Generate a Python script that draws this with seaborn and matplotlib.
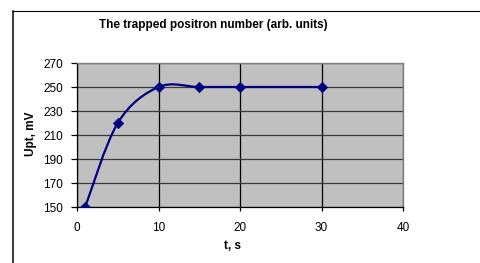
import numpy as np
import pandas as pd
import matplotlib
matplotlib.use("Agg")
import matplotlib.pyplot as plt
import seaborn as sns
from matplotlib.path import Path
from matplotlib.patches import PathPatch
from matplotlib.lines import Line2D

# --- data ---
t_s = [1, 5, 10, 15, 20, 30]
upt_mv = [150, 220, 250, 250, 250, 250]
x_ticks = [0, 10, 20, 30, 40]
y_ticks = [150, 170, 190, 210, 230, 250, 270]

title = "The trapped positron number (arb. units)"
xlabel = "t, s"
ylabel = "Upt, mV"

df = pd.DataFrame({"t": t_s, "upt": upt_mv})

sns.set_style("white")
plt.rcParams['font.family'] = ['Liberation Sans', 'DejaVu Sans']
plt.rcParams['text.color'] = 'black'
plt.rcParams['xtick.labelcolor'] = 'black'
plt.rcParams['ytick.labelcolor'] = 'black'

W, H = 480, 263
fig = plt.figure(figsize=(W / 100, H / 100), dpi=100)
ax = fig.add_axes([77 / W, 1 - 207 / H, 326 / W, 144 / H])
ax.set_facecolor('#c0c0c0')

# Excel style smoothed line (Catmull-Rom as cubic Bezier, in data coords)
pts = df[["t", "upt"]].to_numpy(dtype=float)
verts = [pts[0]]
codes = [Path.MOVETO]
n = len(pts)
for i in range(n - 1):
    p_prev = pts[i - 1] if i > 0 else pts[i]
    p_next = pts[i + 2] if i + 2 < n else pts[i + 1]
    c1 = pts[i] + (pts[i + 1] - p_prev) / 6
    c2 = pts[i + 1] - (p_next - pts[i]) / 6
    verts += [c1, c2, pts[i + 1]]
    codes += [Path.CURVE4] * 3
ax.add_patch(PathPatch(Path(verts, codes), facecolor='none',
                       edgecolor='#000080', lw=1.6, zorder=3))

sns.scatterplot(data=df, x="t", y="upt", marker='D', s=28, color='#000080',
                edgecolor='#000080', linewidth=0.5, ax=ax, zorder=4)

ax.set_xlim(0, 40)
ax.set_ylim(150, 270)
ax.set_xticks(x_ticks)
ax.set_yticks(y_ticks)
ax.grid(axis='y', color='#3a3a3a', lw=0.9)
ax.grid(axis='x', color='black', lw=0.9)
ax.set_axisbelow(True)

for s in ['top', 'right']:
    ax.spines[s].set_color('#808080')
    ax.spines[s].set_linewidth(1.0)
for s in ['left', 'bottom']:
    ax.spines[s].set_color('black')
    ax.spines[s].set_linewidth(0.9)

ax.tick_params(axis='y', direction='out', length=4, width=0.9, pad=6,
               labelsize=8.5, left=True, color='black', labelcolor='black')
ax.tick_params(axis='x', direction='out', length=3, width=0.9, pad=7.5,
               labelsize=8.5, bottom=True, color='black', labelcolor='black')
ax.set_xlabel("")
ax.set_ylabel("")

fig.text(213 / W, 1 - 25 / H, title, ha='center', va='center',
         fontsize=8.5, fontweight='bold', color='black')
fig.text(233 / W, 1 - 246 / H, xlabel, ha='center', va='center',
         fontsize=8.5, fontweight='bold', color='black')
fig.text(31 / W, 1 - 134 / H, ylabel, ha='center', va='center',
         fontsize=8.5, fontweight='bold', rotation=90, color='black')

# chart area frame (only left and top edges fall inside the picture)
fig.add_artist(Line2D([12.5 / W, 12.5 / W], [0, 1 - 10.5 / H],
                      transform=fig.transFigure, color='#404040', lw=1.5))
fig.add_artist(Line2D([12.5 / W, 1], [1 - 10.5 / H, 1 - 10.5 / H],
                      transform=fig.transFigure, color='black', lw=0.8))

fig.savefig("out.png", dpi=100)
